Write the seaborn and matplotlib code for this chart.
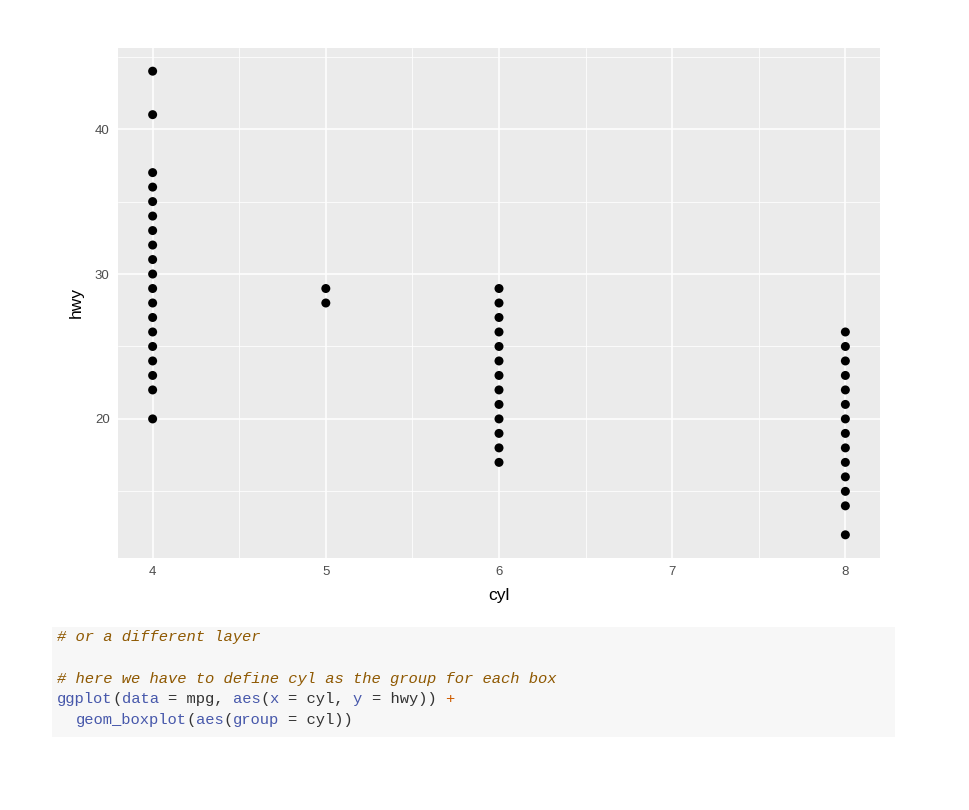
import numpy as np
import pandas as pd
import seaborn as sns
import matplotlib.pyplot as plt

# hwy values, one list per cylinder count
hwy_cyl4 = [20, 22, 23, 24, 25, 26, 27, 28, 29, 30, 31, 32, 33, 34, 35, 36, 37, 41, 44]
hwy_cyl5 = [28, 29]
hwy_cyl6 = [17, 18, 19, 20, 21, 22, 23, 24, 25, 26, 27, 28, 29]
hwy_cyl8 = [12, 14, 15, 16, 17, 18, 19, 20, 21, 22, 23, 24, 25, 26]

x_ticks = [4, 5, 6, 7, 8]
y_ticks = [20, 30, 40]

code_lines = [
    [("# or a different layer", "comment")],
    [],
    [("# here we have to define cyl as the group for each box", "comment")],
    [("ggplot", "fn"), ("(", "txt"), ("data", "fn"), (" = mpg, ", "txt"), ("aes", "fn"),
     ("(", "txt"), ("x", "fn"), (" = cyl, ", "txt"), ("y", "fn"), (" = hwy)) ", "txt"), ("+", "op")],
    [("  ", "txt"), ("geom_boxplot", "fn"), ("(", "txt"), ("aes", "fn"), ("(", "txt"),
     ("group", "fn"), (" = cyl))", "txt")],
]

rows = []
for c, vals in [(4, hwy_cyl4), (5, hwy_cyl5), (6, hwy_cyl6), (8, hwy_cyl8)]:
    for v in vals:
        rows.append({"cyl": c, "hwy": v})
mpg = pd.DataFrame(rows)

sns.set_theme(style="darkgrid", rc={
    "axes.facecolor": "#EBEBEB",
    "grid.color": "white",
    "axes.edgecolor": "none",
})
plt.rcParams['font.family'] = ['Liberation Sans', 'DejaVu Sans']

fig = plt.figure(figsize=(9.7, 8.1), dpi=100)
ax = fig.add_axes([118 / 970, 1 - 558 / 810, (880 - 118) / 970, (558 - 48) / 810])

sns.scatterplot(data=mpg, x="cyl", y="hwy", color="black", s=42, edgecolor="none", ax=ax, zorder=3)

ax.set_xlim(3.8, 8.2)
ax.set_ylim(10.4, 45.6)
ax.set_xticks(x_ticks)
ax.set_yticks(y_ticks)
ax.set_xticks(np.arange(4.5, 8, 1), minor=True)
ax.set_yticks([15, 25, 35, 45], minor=True)
ax.grid(which="major", color="white", linewidth=1.1)
ax.grid(which="minor", color="white", linewidth=0.55)
ax.tick_params(which="major", length=3, width=0.8, color="#333333",
               labelcolor="#4D4D4D", labelsize=9.5, pad=3)
ax.tick_params(which="minor", length=0)
for s in ax.spines.values():
    s.set_visible(False)
ax.set_xlabel("cyl", fontsize=12.5, color="black", labelpad=7)
ax.set_ylabel("hwy", fontsize=12.5, color="black", labelpad=8)

# code block under the chart
fig.patches.append(plt.Rectangle((52 / 970, 1 - 737 / 810), (895 - 52) / 970, (737 - 627) / 810,
                                 transform=fig.transFigure, facecolor="#F7F7F7",
                                 edgecolor="none", zorder=0))
colors = {"comment": "#8F5902", "fn": "#4758AB", "txt": "#333333", "op": "#CE5C00"}
code_size = 11.15

# measure the real monospace advance so the coloured pieces line up
renderer = fig.canvas.get_renderer()
probe = fig.text(0, 0, "x" * 40, family="Liberation Mono", fontsize=code_size)
char_w = probe.get_window_extent(renderer).width / 40 / fig.bbox.width
probe.remove()

y0 = 637
for i, line in enumerate(code_lines):
    ncol = 0
    for text, kind in line:
        if text.strip():
            lead = len(text) - len(text.lstrip())
            fig.text(57 / 970 + (ncol + lead) * char_w, 1 - (y0 + i * 20.8) / 810, text.strip(),
                     family="Liberation Mono", fontsize=code_size, color=colors[kind],
                     va="center", ha="left",
                     style="italic" if kind == "comment" else "normal")
        ncol += len(text)

fig.savefig("out.png", dpi=100)
plt.close("all")
